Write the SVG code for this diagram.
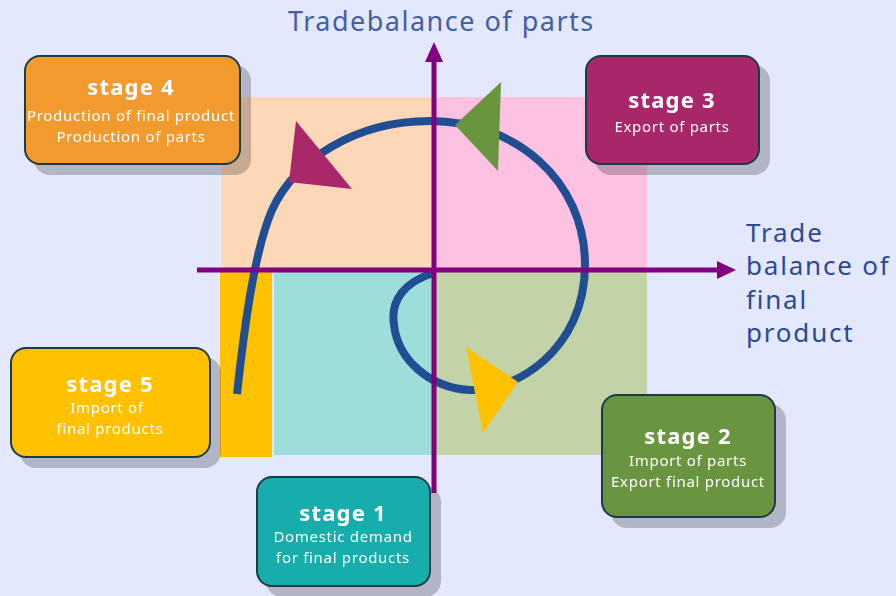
<svg xmlns="http://www.w3.org/2000/svg" width="896" height="596" viewBox="0 0 896 596">
<defs>
<filter id="sh" x="-10%" y="-10%" width="130%" height="140%">
<feOffset in="SourceAlpha" dx="10" dy="10" result="o"/>
<feFlood flood-color="#000" flood-opacity="0.22"/>
<feComposite in2="o" operator="in" result="s"/>
<feMerge><feMergeNode in="s"/><feMergeNode in="SourceGraphic"/></feMerge>
</filter>
</defs>
<style>
.box{stroke:#1c3a48;stroke-width:2}
.h{font-family:"Noto Sans",sans-serif;font-weight:bold;font-size:22px;letter-spacing:1.2px;fill:#fff;text-anchor:middle}
.s{font-family:"Noto Sans",sans-serif;font-size:15px;letter-spacing:0.7px;fill:#fff;text-anchor:middle}
.ax{stroke:#800080;stroke-width:5;fill:none}
.ah{fill:#800080}
.lbl{font-family:"Noto Sans",sans-serif;font-size:26px;letter-spacing:1.8px;fill:#2a4a95}
.ttl{font-family:"Noto Sans",sans-serif;font-size:27px;letter-spacing:1.5px;fill:#43609f}
</style>
<rect width="896" height="596" fill="#e4e8fd"/>
<g id="quadrants">
<rect x="221" y="97" width="213" height="173" fill="#fdd8b8"/>
<rect x="434" y="97" width="213" height="173" fill="#fdc1e1"/>
<rect x="220" y="270" width="52" height="187" fill="#ffc100"/>
<rect x="274" y="272" width="160" height="183" fill="#9ddedb"/>
<rect x="434" y="270" width="213" height="185" fill="#c1d3a7"/>
</g>
<g id="connectors">
<path d="M433,273 C405,282 390,300 394,325 C398,360 430,388 470,390 C515,392 585,350 585,265 C585,180 515,121 430,121 C355,121 295,160 272,210 C255,250 245,320 237,394" fill="none" stroke="#214d92" stroke-width="8"/>
<polygon points="296,121 289,182 352,189" fill="#a8286a"/>
<polygon points="501,82 455,125 498,171" fill="#6a953f"/>
<polygon points="466,347 518,382 483,433" fill="#ffc100"/>
</g>
<g id="stage4" filter="url(#sh)">
<rect class="box" x="25" y="56" width="215" height="108" rx="15" fill="#f39a2f"/>
<text class="h" x="131" y="95">stage 4</text>
<text class="s" x="131" y="121">Production of final product</text>
<text class="s" x="131" y="142">Production of parts</text>
</g>
<g id="stage3" filter="url(#sh)">
<rect class="box" x="586" y="56" width="173" height="108" rx="15" fill="#a8286a"/>
<text class="h" x="672" y="108">stage 3</text>
<text class="s" x="672" y="132">Export of parts</text>
</g>
<g id="stage5" filter="url(#sh)">
<rect class="box" x="11" y="348" width="199" height="109" rx="15" fill="#ffc100"/>
<text class="h" x="110" y="392">stage 5</text>
<text class="s" x="107" y="413">Import of</text>
<text class="s" x="110" y="434">final products</text>
</g>
<g id="stage1" filter="url(#sh)">
<rect class="box" x="257" y="477" width="173" height="109" rx="15" fill="#12adac"/>
<text class="h" x="343" y="521">stage 1</text>
<text class="s" x="343" y="542">Domestic demand</text>
<text class="s" x="343" y="563">for final products</text>
</g>
<g id="stage2" filter="url(#sh)">
<rect class="box" x="602" y="395" width="173" height="122" rx="15" fill="#6a953f"/>
<text class="h" x="688" y="444">stage 2</text>
<text class="s" x="688" y="466">Import of parts</text>
<text class="s" x="688" y="487">Export final product</text>
</g>
<g id="axes">
<line class="ax" x1="434" y1="60" x2="434" y2="493"/>
<polygon class="ah" points="434,42 425,62 443,62"/>
<line class="ax" x1="197" y1="270" x2="719" y2="270"/>
<polygon class="ah" points="736,270 717,261 717,279"/>
</g>
<g id="labels">
<text class="ttl" x="288" y="31">Tradebalance of parts</text>
<text class="lbl" x="746" y="242">Trade</text>
<text class="lbl" x="746" y="275">balance of</text>
<text class="lbl" x="746" y="309">final</text>
<text class="lbl" x="746" y="342">product</text>
</g>
</svg>
